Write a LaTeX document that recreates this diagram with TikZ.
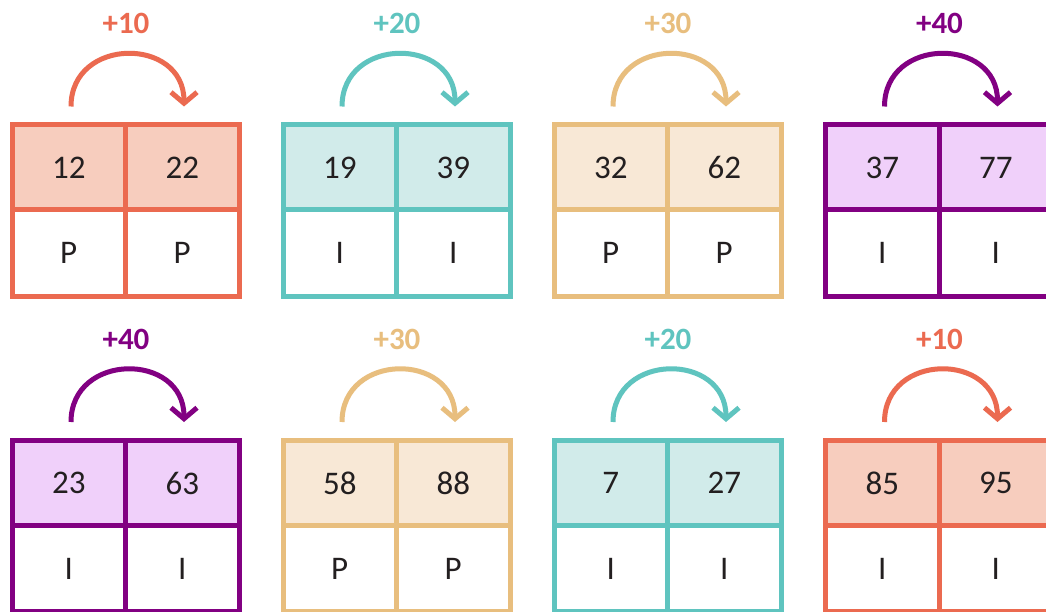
\documentclass[tikz,border=0pt]{standalone}
\usepackage{fontspec}
\setmainfont{Carlito}
\usetikzlibrary{arrows.meta}
\definecolor{or}{RGB}{235,106,80}
\definecolor{orf}{RGB}{247,205,190}
\definecolor{te}{RGB}{95,196,191}
\definecolor{tef}{RGB}{209,235,234}
\definecolor{ta}{RGB}{232,190,126}
\definecolor{taf}{RGB}{248,232,214}
\definecolor{pu}{RGB}{130,0,130}
\definecolor{puf}{RGB}{240,208,250}
\definecolor{ink}{RGB}{35,31,32}
\tikzset{
  cell/.style={draw=#1, line width=5pt, minimum width=113.5pt, minimum height=86pt,
    inner sep=0pt, outer sep=0pt, text=ink, font=\fontsize{33}{33}\selectfont},
  hop/.style={draw=#1, line width=5pt,
    -{Straight Barb[length=11pt,width=26pt,line cap=butt]}},
  hoplabel/.style={text=#1, font=\bfseries\fontsize{31}{31}\selectfont, inner sep=0pt}
}
% id, x0, y0, colour, n1, n2, l1, l2, label
\newcommand{\hoptable}[9]{%
  \node[cell=#4, fill=#4f] (#1a) at (#2+56.75, #3+43) {#5};
  \node[cell=#4, fill=#4f] (#1b) at (#2+170.25, #3+43) {#6};
  \node[cell=#4, fill=white] (#1c) at (#2+56.75, #3+128.5) {#7};
  \node[cell=#4, fill=white] (#1d) at (#2+170.25, #3+128.5) {#8};
  \coordinate (#1s) at (#2+59, #3-18);
  \coordinate (#1e) at (#2+172, #3-18);
  \draw[hop=#4] (#1s) .. controls +(0,-70) and +(0,-70) .. (#1e);
  \node[hoplabel=#4] (#1l) at (#2+114, #3-101) {#9};
}
\begin{document}
\begin{tikzpicture}[x=1pt,y=-1pt]
\useasboundingbox (0,0) rectangle (1046,612);
\clip (0,0) rectangle (1046,612);
\fill[white] (0,0) rectangle (1046,612);
\hoptable{p}{12}{124.5}{or}{12}{22}{P}{P}{+10}
\hoptable{q}{283}{124.5}{te}{19}{39}{I}{I}{+20}
\hoptable{r}{554}{124.5}{ta}{32}{62}{P}{P}{+30}
\hoptable{s}{825.5}{124.5}{pu}{37}{77}{I}{I}{+40}
\hoptable{t}{12}{440}{pu}{23}{63}{I}{I}{+40}
\hoptable{u}{283}{440}{ta}{58}{88}{P}{P}{+30}
\hoptable{v}{554}{440}{te}{7}{27}{I}{I}{+20}
\hoptable{w}{825.5}{440}{or}{85}{95}{I}{I}{+10}
\end{tikzpicture}
\end{document}
